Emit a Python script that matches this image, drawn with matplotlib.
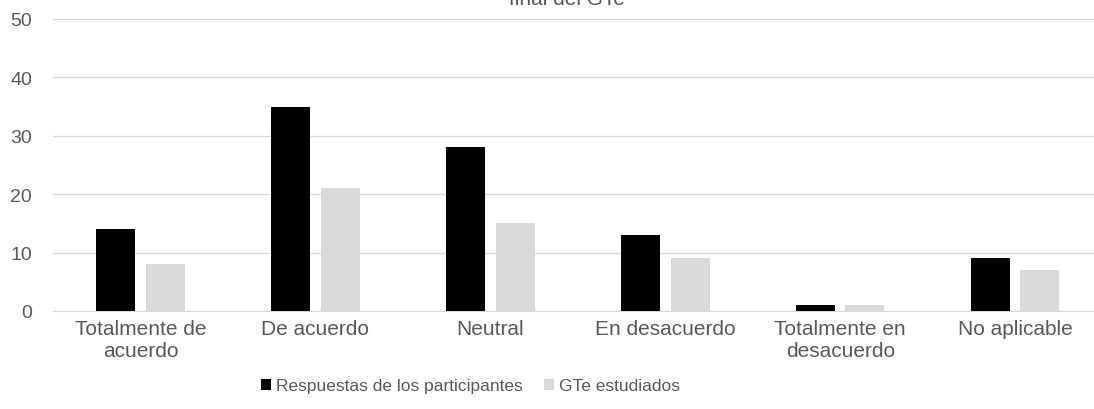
import matplotlib
matplotlib.use("Agg")
import matplotlib.pyplot as plt
import numpy as np

plt.rcParams['font.family'] = ['Liberation Sans', 'DejaVu Sans']

categorias = ["Totalmente de\nacuerdo", "De acuerdo", "Neutral", "En desacuerdo",
              "Totalmente en\ndesacuerdo", "No aplicable"]
participantes = [14, 35, 28, 13, 1, 9]
gte = [8, 21, 15, 9, 1, 7]
series = ["Respuestas de los participantes", "GTe estudiados"]
titulo = "final del GTe"

gris_txt = "#595959"
W, H = 1094, 410
fig = plt.figure(figsize=(W / 100, H / 100), dpi=100)
ax = fig.add_axes([53 / W, 1 - 312 / H, (W - 53) / W, 292 / H])

x = np.arange(len(categorias))
w = 0.223
off = 0.141
ax.bar(x - off, participantes, w, color="black", label=series[0], zorder=3)
ax.bar(x + off, gte, w, color="#d9d9d9", label=series[1], zorder=3)

ax.set_ylim(0, 50)
ax.set_xlim(-0.5, 5.45)
ax.set_yticks(range(0, 51, 10))
ax.yaxis.grid(True, color="#d9d9d9", linewidth=1, zorder=0)
for s in ["top", "right", "left"]:
    ax.spines[s].set_visible(False)
ax.spines["bottom"].set_color("#d9d9d9")
ax.set_xticks(x)
ax.set_xticklabels(categorias, fontsize=15, color=gris_txt, linespacing=1.2)
ax.tick_params(axis="y", labelsize=14, labelcolor=gris_txt, length=0, pad=15)
ax.tick_params(axis="x", length=0, pad=6)

# el titulo queda cortado arriba, como en el original
fig.text(0.518, 1 - 5 / H, titulo, ha="center", va="baseline", fontsize=15, color=gris_txt)

leg = fig.legend(loc="center", bbox_to_anchor=(0.43, 1 - 387 / H), ncol=2, frameon=False,
                 fontsize=12.5, handlelength=0.6, handleheight=0.6, handletextpad=0.3,
                 columnspacing=1.2, labelcolor=gris_txt)

fig.savefig("out.png", dpi=100)
